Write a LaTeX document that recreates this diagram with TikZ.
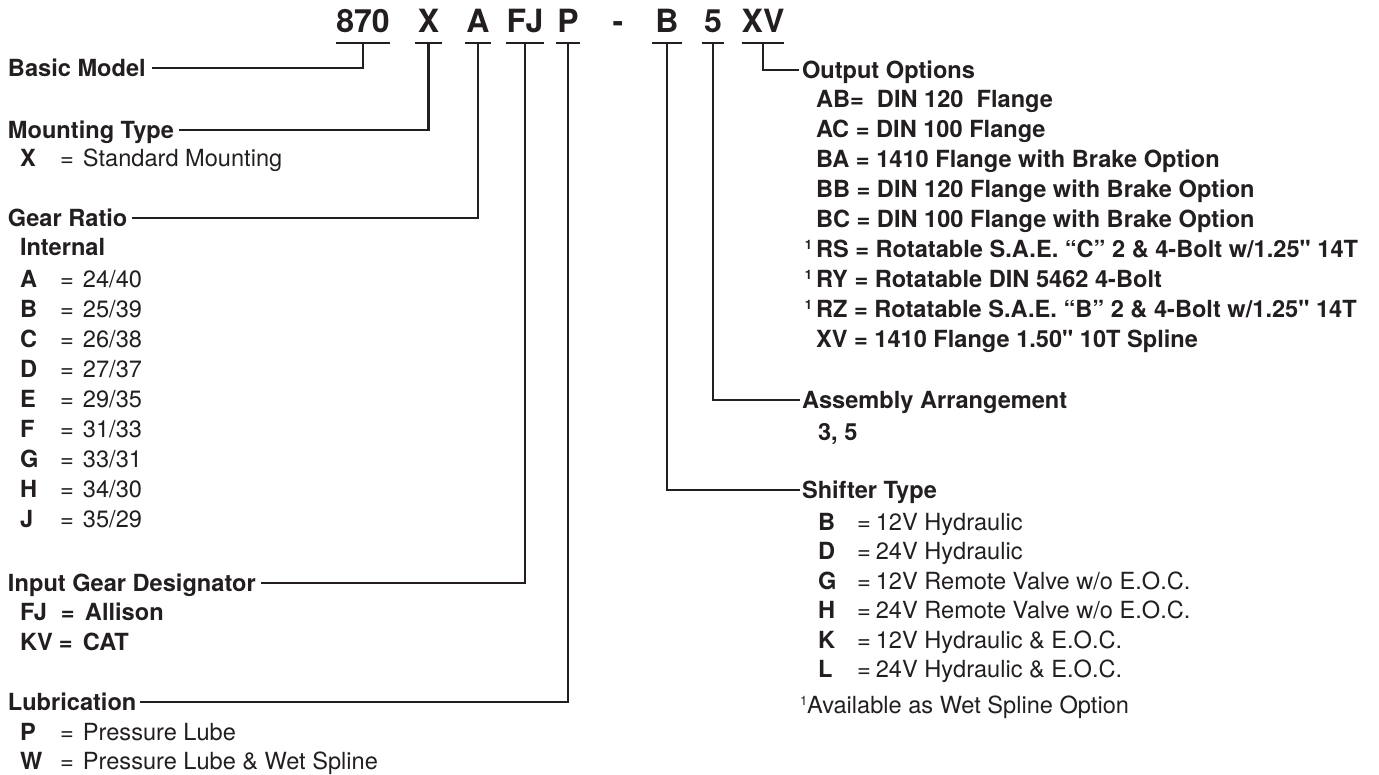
\documentclass[tikz,border=0pt]{standalone}
\usepackage{fontspec}
\setmainfont{TeX Gyre Heros}[Ligatures=TeXOff]
\usetikzlibrary{calc}
\definecolor{ink}{HTML}{231F20}
\newcommand\fs{\fontsize{23.6}{28}\selectfont}
\newcommand\lrow[2]{\makebox[40pt][l]{\bfseries #1}\makebox[23pt][l]{=}#2}
\newcommand\srow[2]{\makebox[39pt][l]{\bfseries #1}=\hspace{5pt}#2}
\newcommand\fnmark{\makebox[0pt][r]{\fontsize{13}{13}\selectfont\raisebox{8pt}{1}\hspace{4pt}}}
\begin{document}
\begin{tikzpicture}[x=1pt,y=-1pt,
  every node/.style={inner sep=0pt, outer sep=0pt, text=ink},
  code/.style={font=\fontsize{32}{32}\selectfont\bfseries, anchor=base, text height=24pt, text depth=11pt},
  head/.style={font=\fs\bfseries, anchor=base west, text height=17pt, text depth=0pt},
  item/.style={font=\fs, anchor=base west},
  bitem/.style={font=\fs\bfseries, anchor=base west},
  conn/.style={draw=ink, line width=2.2pt},
]
\useasboundingbox (0,0) rectangle (1379,774);

% header codes
\node[code, minimum width=50pt] (c870) at (363,32) {870};
\node[code, minimum width=27pt] (cX) at (428.5,32) {X};
\node[code, minimum width=26pt] (cA) at (478,32) {A};
\node[code, minimum width=38pt] (cFJ) at (525,32) {FJ};
\node[code, minimum width=24pt] (cP) at (568,32) {P};
\node[code] (cdash) at (618,32) {-};
\node[code, minimum width=30pt] (cB) at (667,32) {B};
\node[code, minimum width=22pt] (c5) at (713,32) {5};
\node[code, minimum width=40pt] (cXV) at (763,32) {XV};

\foreach \n in {c870,cX,cA,cFJ,cP,cB,c5,cXV}
  \draw[conn] (\n.south west) -- (\n.south east);

% left headings
\node[head] (bm) at (8,76.5) {Basic Model};
\node[head] (mt) at (8,138.5) {Mounting Type};
\node[head] (gr) at (8,226.5) {Gear Ratio};
\node[head] (ig) at (8,591.5) {Input Gear Designator};
\node[head] (lb) at (8,710.5) {Lubrication};

% right headings
\node[head] (oo) at (802,78.5) {Output Options};
\node[head] (aa) at (802,408.5) {Assembly Arrangement};
\node[head] (st) at (802,498.5) {Shifter Type};

% connectors
\draw[conn] (c870.south) |- ([xshift=6pt]bm.east);
\draw[conn] (cX.south) |- ([xshift=5pt]mt.east);
\draw[conn] (cA.south) |- ([xshift=5pt]gr.east);
\draw[conn] (cFJ.south) |- ([xshift=5pt]ig.east);
\draw[conn] (cP.south) |- ([xshift=4pt]lb.east);
\draw[conn] (cXV.south) |- ([xshift=-3pt]oo.west);
\draw[conn] (c5.south) |- ([xshift=-2pt]aa.west);
\draw[conn] (cB.south) |- ([xshift=-2pt]st.west);

% left entries
\node[item] (mx) at (20,166) {\lrow{X}{Standard Mounting}};
\node[bitem] (gint) at (20,255) {Internal};
\node[item] (gA) at (20,287) {\lrow{A}{24/40}};
\node[item] (gB) at (20,317) {\lrow{B}{25/39}};
\node[item] (gC) at (20,347) {\lrow{C}{26/38}};
\node[item] (gD) at (20,377) {\lrow{D}{27/37}};
\node[item] (gE) at (20,407) {\lrow{E}{29/35}};
\node[item] (gF) at (20,437) {\lrow{F}{31/33}};
\node[item] (gG) at (20,467) {\lrow{G}{33/31}};
\node[item] (gH) at (20,497) {\lrow{H}{34/30}};
\node[item] (gJ) at (20,527) {\lrow{J}{35/29}};
\node[bitem] (iFJ) at (20,620) {\makebox[41pt][l]{FJ}\makebox[24pt][l]{=}Allison};
\node[bitem] (iKV) at (20,650) {\makebox[39pt][l]{KV}\makebox[24pt][l]{=}CAT};
\node[item] (lP) at (20,740) {\lrow{P}{Pressure Lube}};
\node[item] (lW) at (20,769) {\lrow{W}{Pressure Lube \& Wet Spline}};

% output options
\node[bitem] (oAB) at (816,107) {AB=\ \ DIN 120\ \ Flange};
\node[bitem] (oAC) at (816,137) {AC = DIN 100 Flange};
\node[bitem] (oBA) at (816,167) {BA = 1410 Flange with Brake Option};
\node[bitem] (oBB) at (816,197) {BB = DIN 120 Flange with Brake Option};
\node[bitem] (oBC) at (816,227) {BC = DIN 100 Flange with Brake Option};
\node[bitem] (oRS) at (816,257) {\fnmark RS = Rotatable S.A.E. “C” 2 \& 4-Bolt w/1.25" 14T};
\node[bitem] (oRY) at (816,287) {\fnmark RY = Rotatable DIN 5462 4-Bolt};
\node[bitem] (oRZ) at (816,317) {\fnmark RZ = Rotatable S.A.E. “B” 2 \& 4-Bolt w/1.25" 14T};
\node[bitem] (oXV) at (816,347) {XV = 1410 Flange 1.50" 10T Spline};

% assembly
\node[bitem] (a35) at (818,440) {3, 5};

% shifter
\node[item] (sB) at (818,530) {\srow{B}{12V Hydraulic}};
\node[item] (sD) at (818,559.5) {\srow{D}{24V Hydraulic}};
\node[item] (sG) at (818,589) {\srow{G}{12V Remote Valve w/o E.O.C.}};
\node[item] (sH) at (818,618.5) {\srow{H}{24V Remote Valve w/o E.O.C.}};
\node[item] (sK) at (818,648) {\srow{K}{12V Hydraulic \& E.O.C.}};
\node[item] (sL) at (818,677.5) {\srow{L}{24V Hydraulic \& E.O.C.}};

% footnote
\node[item] (fn) at (800,713) {{\fontsize{13}{13}\selectfont\raisebox{8pt}{1}}Available as Wet Spline Option};
\end{tikzpicture}
\end{document}
